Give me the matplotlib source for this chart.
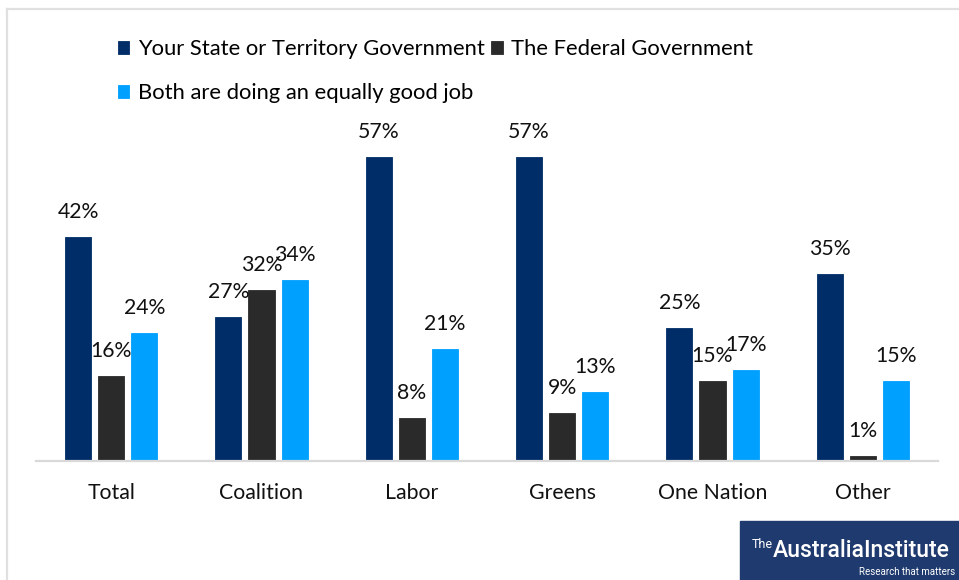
import matplotlib.pyplot as plt
import matplotlib.patches as mpatches
import numpy as np

plt.rcParams['font.family'] = ['Lato', 'DejaVu Sans']

groups = ["Total", "Coalition", "Labor", "Greens", "One Nation", "Other"]
state_gov = [42, 27, 57, 57, 25, 35]
federal_gov = [16, 32, 8, 9, 15, 1]
both_equal = [24, 34, 21, 13, 17, 15]

series_names = ["Your State or Territory Government",
                "The Federal Government",
                "Both are doing an equally good job"]
colors = ["#002D68", "#2A2A2A", "#00A0FF"]

fig = plt.figure(figsize=(9.59, 5.8), dpi=100)
W, H = 959, 580
# axes placed in pixel terms
left, right, top, bottom = 36, 938, 101, 461
ax = fig.add_axes([left / W, 1 - bottom / H, (right - left) / W, (bottom - top) / H])

x = np.arange(len(groups))
step = 0.22
width = 0.173
bars = []
for i, (vals, col) in enumerate(zip([state_gov, federal_gov, both_equal], colors)):
    b = ax.bar(x + (i - 1) * step, vals, width, color=col, edgecolor=col,
               linewidth=0.6, label=series_names[i], zorder=2)
    bars.append(b)
    for xi, v in zip(x + (i - 1) * step, vals):
        ax.annotate(f"{v}%", (xi, v), xytext=(0, 18), textcoords="offset points",
                    ha="center", va="center", fontsize=15.3, color="#111111")

ax.set_xlim(-0.5, len(groups) - 0.5)
ax.set_ylim(0, 67.5)
ax.set_xticks(x)
ax.set_xticklabels(groups, fontsize=15.3, color="#111111")
ax.tick_params(axis="x", length=0, pad=16)
ax.set_yticks([])
for s in ["top", "left", "right"]:
    ax.spines[s].set_visible(False)
ax.spines["bottom"].set_color("#d9d9d9")
ax.spines["bottom"].set_linewidth(1.6)

# legend: column-major fill, so order gives rows [state, federal] / [both]
handles = [bars[0], bars[2], bars[1]]
labels = [series_names[0], series_names[2], series_names[1]]
fig.legend(handles, labels, loc="upper left", bbox_to_anchor=(107 / W, 1 - 28 / H),
           ncol=2, frameon=False, fontsize=15.8, handlelength=0.52, handleheight=0.52,
           handletextpad=0.38, columnspacing=0.3, labelspacing=1.1, borderpad=0)

# outer frame
fig.add_artist(plt.Line2D([7 / W, 7 / W], [0, 1 - 9 / H], color="#e0e0e0", lw=1.6,
                          transform=fig.transFigure))
fig.add_artist(plt.Line2D([7 / W, 958 / W], [1 - 9 / H, 1 - 9 / H], color="#e0e0e0", lw=1.6,
                          transform=fig.transFigure))

# logo block
fig.add_artist(mpatches.Rectangle((740 / W, 0), 1 - 740 / W, 59 / H, color="#1F3A6E",
                                  transform=fig.transFigure, zorder=5))
fig.text(752 / W, 1 - 548 / H, "The", color="white", fontsize=9, va="baseline",
         family="Roboto", zorder=6)
fig.text(773 / W, 1 - 557 / H, "AustraliaInstitute", color="white", fontsize=16.5,
         va="baseline", family="Roboto", fontweight="medium", zorder=6)
fig.text(955 / W, 1 - 575 / H, "Research that matters", color="white", fontsize=7,
         va="baseline", ha="right", family="Roboto", zorder=6)

fig.savefig("out.png", dpi=100, facecolor="white")
